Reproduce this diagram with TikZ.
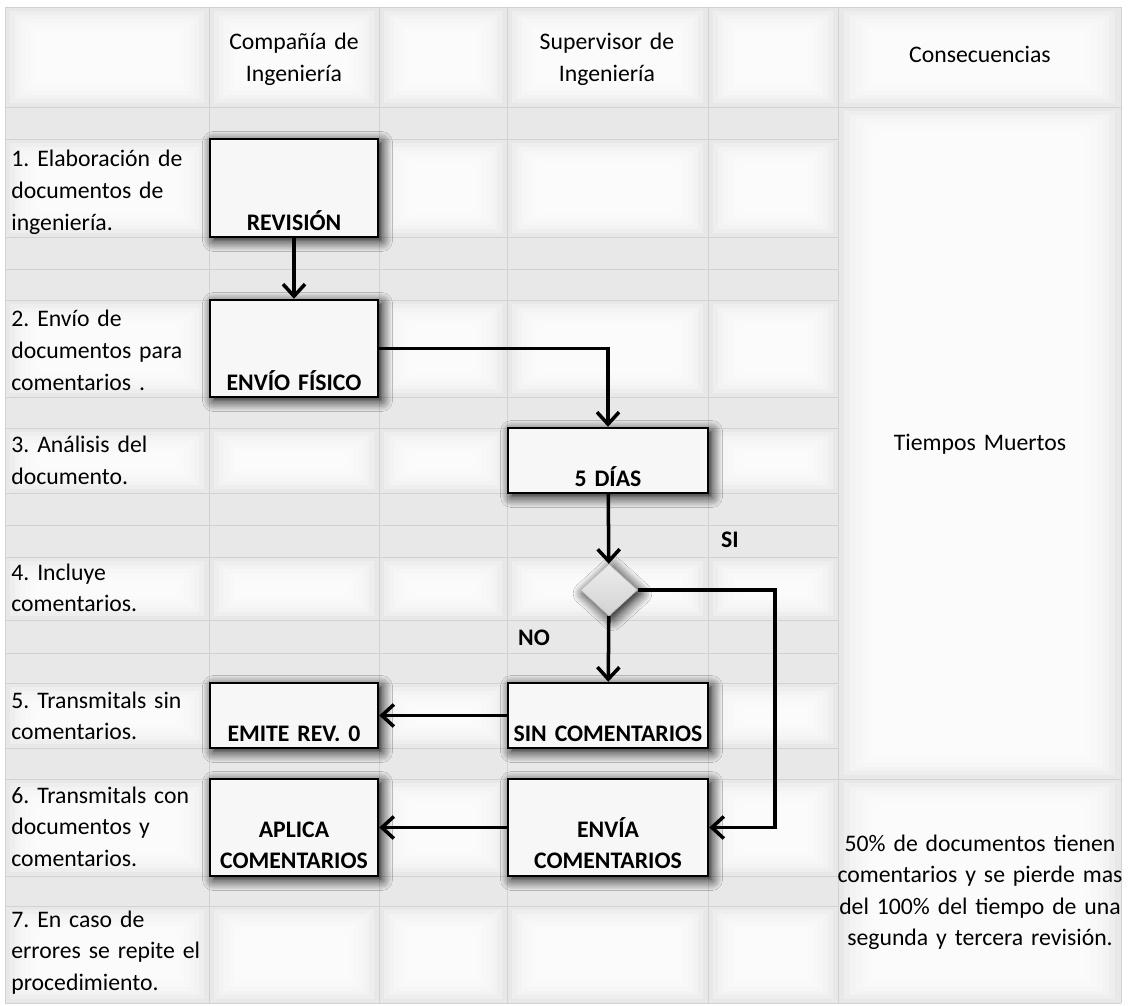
\documentclass[tikz,border=0pt]{standalone}
\usepackage{fontspec}
\setmainfont{Carlito}[WordSpace=0.8]
\usetikzlibrary{arrows.meta,shapes.geometric,shadows.blur}
\definecolor{fondo}{HTML}{E8E8E8}
\definecolor{rejilla}{HTML}{D2D2D2}
\newcommand\tam{\fontsize{13.5}{18}\selectfont\frenchspacing}
\begin{document}
\begin{tikzpicture}[x=0.2mm,y=-0.2mm,font=\tam,>={Straight Barb[length=2.4mm,width=4.4mm]},
    sombra/.style={blur shadow={shadow xshift=0.7mm,shadow yshift=-0.7mm,shadow blur radius=2.2mm,shadow blur steps=8,shadow opacity=100}},
    caja/.style={draw,line width=1.4pt,fill=gray!6,inner sep=0pt,minimum width=#1,sombra},
    caja/.default=33.6mm,
    rotulo/.style={anchor=base,yshift=#1,font=\tam\bfseries,align=center,text width=40mm,inner sep=0pt},
    rotulo/.default=1.6mm,
    flecha/.style={->,line width=2pt},
    texto/.style={anchor=base west,align=left,text width=40mm,inner sep=0pt},
    encab/.style={anchor=base,align=center,text width=50mm,inner sep=0pt}]
\useasboundingbox (0,0) rectangle (1128,1006);
\fill[white] (0,0) rectangle (1128,1006);
% celdas de la hoja
\foreach \ya/\yb in {107/139,237/269,269/300,397/428,493/525,525/557,620/653,653/683,748/779,876/906}
  \fill[fondo] (5,\ya) rectangle (838,\yb);
\foreach \ya/\yb in {7/107,139/237,300/397,428/493,557/620,683/748,779/876,906/1003}
  \foreach \xa/\xb in {5/209,209/379,379/507,507/708,708/838}{
    \fill[fondo] (\xa,\ya) rectangle (\xb,\yb);
    \foreach \k in {1,...,6}
      \fill[white,opacity=0.3] (\xa+5*\k,\ya+4*\k) rectangle (\xb-5*\k,\yb-4*\k);
  }
\foreach \ya/\yb in {7/107,107/779,779/1003}{
  \fill[fondo] (838,\ya) rectangle (1121,\yb);
  \foreach \k in {1,...,6}
    \fill[white,opacity=0.3] (838+6*\k,\ya+4*\k) rectangle (1121-6*\k,\yb-4*\k);
}
\foreach \y in {7,107,139,237,269,300,397,428,493,525,557,620,653,683,748,779,876,906,1003}
  \draw[rejilla] (5,\y) -- (838,\y);
\foreach \y in {7,107,779,1003}
  \draw[rejilla] (838,\y) -- (1121,\y);
\foreach \x in {5,209,379,507,708,838,1121}
  \draw[rejilla] (\x,7) -- (\x,1003);
% encabezados y pasos
\node[encab] (cia) at (294,50) {Compañía de\\Ingeniería};
\node[encab] (sup) at (607,50) {Supervisor de\\Ingeniería};
\node[encab] (cons) at (980,63) {Consecuencias};
\node[texto] (p1) at (11,167) {1. Elaboración de\\documentos de\\ingeniería.};
\node[texto] (p2) at (11,327) {2. Envío de\\documentos para\\comentarios .};
\node[texto] (p3) at (11,453) {3. Análisis del\\documento.};
\node[texto] (p4) at (11,580) {4. Incluye\\comentarios.};
\node[texto] (p5) at (11,708) {5. Transmitals sin\\comentarios.};
\node[texto] (p6) at (11,803) {6. Transmitals con\\documentos y\\comentarios.};
\node[texto] (p7) at (11,927) {7. En caso de\\errores se repite el\\procedimiento.};
\node[encab] (tm) at (980,451) {Tiempos Muertos};
\node[encab,text width=58mm] (nota) at (980,851) {50\% de documentos tienen\\comentarios y se pierde mas\\del 100\% del tiempo de una\\segunda y tercera revisión.};
% diagrama
\node[caja,minimum height=19.6mm,label={[rotulo]south:REVISIÓN}] (rev) at (294,188) {};
\node[caja,minimum height=19.4mm,label={[rotulo]south:ENVÍO FÍSICO}] (envf) at (294,348.5) {};
\node[caja=40mm,minimum height=13mm,label={[rotulo]south:5 DÍAS}] (dias) at (608,460.5) {};
\node[diamond,draw=gray!55,top color=gray!15,bottom color=gray!35,minimum width=11.4mm,minimum height=10.4mm,inner sep=0pt,sombra] (dec) at (609,590) {};
\node[caja=40mm,minimum height=13mm,label={[rotulo]south:SIN COMENTARIOS}] (sinc) at (608,715.5) {};
\node[caja,minimum height=13mm,label={[rotulo]south:EMITE REV. 0}] (emite) at (294,715.5) {};
\node[caja,minimum height=19.4mm,label={[rotulo=8mm]south:APLICA\\COMENTARIOS}] (aplica) at (294,827.5) {};
\node[caja=40mm,minimum height=19.4mm,label={[rotulo=8mm]south:ENVÍA\\COMENTARIOS}] (envia) at (608,827.5) {};
\coordinate (giro) at (775,590);
\node[anchor=base west,font=\tam\bfseries] (si) at (715,548) {SI};
\node[anchor=base west,font=\tam\bfseries] (no) at (512,645) {NO};
\draw[flecha] (rev) -- (envf);
\draw[flecha] (envf.east) -| (dias.north);
\draw[flecha] (dias) -- (dec);
\draw[flecha] (dec) -- (sinc);
\draw[flecha] (dec.east) -- (giro) |- (envia.east);
\draw[flecha] (sinc) -- (emite);
\draw[flecha] (envia) -- (aplica);
\end{tikzpicture}
\end{document}
